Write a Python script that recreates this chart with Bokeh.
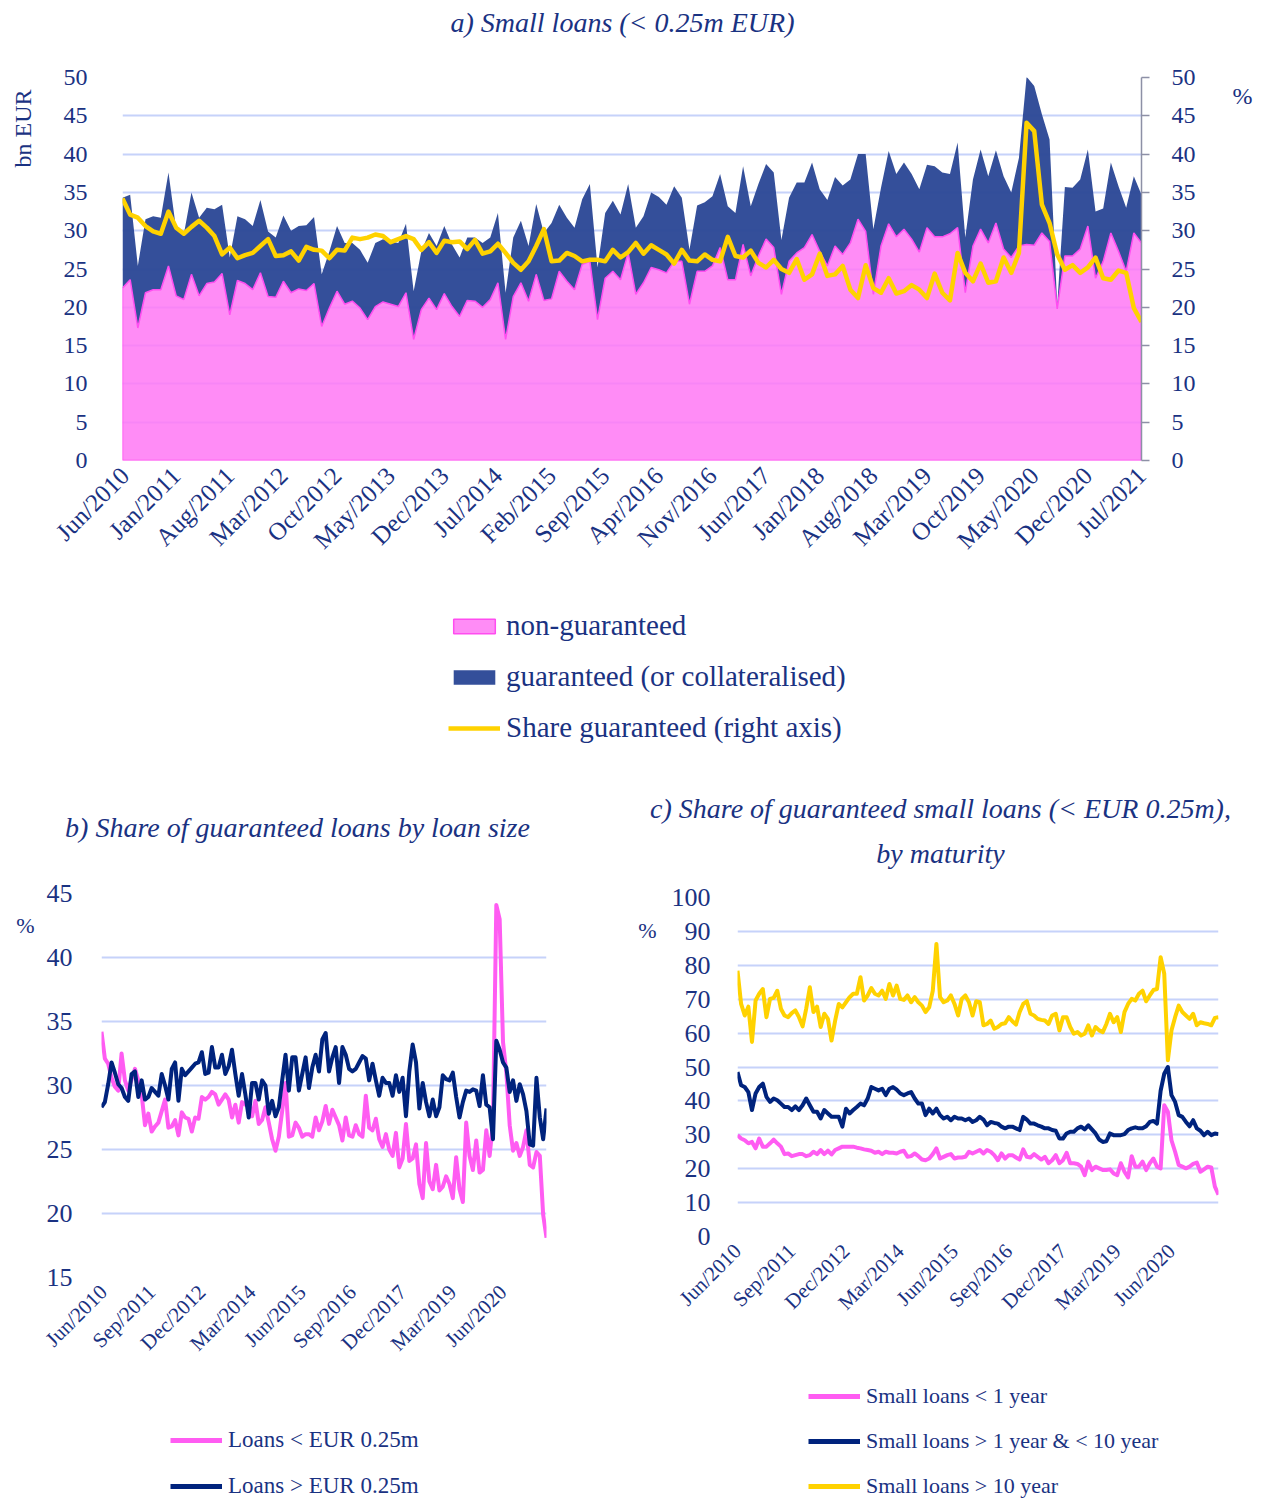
import math
import pandas as pd
from bokeh.plotting import figure
from bokeh.models import (ColumnDataSource, Range1d, LinearAxis, FixedTicker,
                          Legend, LegendItem, Label)
from bokeh.layouts import column, row
from bokeh.embed import file_html
from bokeh.resources import INLINE

# ---------------- data ----------------
months = [d.strftime("%b/%Y") for d in pd.date_range("2010-06-01", periods=134, freq="MS")]

ticks_a_labels = ["Jun/2010", "Jan/2011", "Aug/2011", "Mar/2012", "Oct/2012", "May/2013",
                  "Dec/2013", "Jul/2014", "Feb/2015", "Sep/2015", "Apr/2016", "Nov/2016",
                  "Jun/2017", "Jan/2018", "Aug/2018", "Mar/2019", "Oct/2019", "May/2020",
                  "Dec/2020", "Jul/2021"]
ticks_bc_labels = ["Jun/2010", "Sep/2011", "Dec/2012", "Mar/2014", "Jun/2015", "Sep/2016",
                   "Dec/2017", "Mar/2019", "Jun/2020"]

# a) small loans, bn EUR: total new small loans (top of the dark area)
total_small = [
    34.3, 34.7, 25.4, 31.5, 31.9, 31.7, 37.6, 30.2, 29.5, 35.0,
    31.7, 33.0, 32.8, 33.4, 26.5, 31.9, 31.5, 30.6, 34.0, 29.9,
    29.1, 32.0, 30.0, 30.6, 30.7, 31.8, 24.3, 27.3, 30.6, 28.4,
    28.4, 27.5, 25.8, 28.4, 28.9, 28.6, 28.4, 30.9, 22.1, 27.3,
    29.7, 28.0, 30.6, 28.2, 26.5, 29.1, 29.1, 28.4, 29.1, 32.3,
    21.9, 29.1, 31.3, 28.0, 33.5, 29.7, 31.0, 33.4, 31.7, 30.4,
    34.1, 36.1, 25.2, 32.3, 33.9, 32.1, 36.1, 30.4, 31.9, 35.0,
    34.4, 33.4, 35.8, 34.3, 27.5, 33.3, 33.7, 34.5, 37.4, 33.2,
    32.3, 38.4, 33.2, 36.1, 38.7, 37.6, 28.8, 34.3, 36.3, 36.3,
    38.9, 35.4, 34.0, 37.0, 35.9, 36.7, 40.0, 40.0, 30.2, 35.6,
    40.4, 37.4, 38.9, 37.4, 35.4, 38.6, 38.4, 37.6, 37.4, 41.5,
    29.1, 36.7, 40.6, 37.1, 40.5, 37.1, 35.0, 39.5, 50.1, 48.9,
    45.2, 41.9, 20.3, 35.7, 35.6, 36.7, 40.6, 32.5, 32.9, 38.9,
    35.8, 33.0, 37.1, 34.7]

# non-guaranteed small loans (top of the pink area)
non_guaranteed = [
    22.5, 23.6, 17.3, 21.9, 22.3, 22.3, 25.4, 21.5, 21.0, 24.3,
    21.5, 23.1, 23.3, 24.4, 19.0, 23.5, 23.1, 22.3, 24.5, 21.4,
    21.3, 23.4, 21.9, 22.4, 22.2, 23.1, 17.5, 19.9, 22.1, 20.4,
    20.8, 19.9, 18.4, 20.1, 20.7, 20.4, 20.1, 21.9, 15.8, 19.7,
    21.2, 19.7, 21.8, 20.1, 18.8, 20.9, 20.8, 20.0, 21.0, 23.2,
    15.8, 21.4, 23.2, 20.8, 24.3, 20.9, 21.1, 24.7, 23.4, 22.3,
    25.6, 26.0, 18.4, 23.8, 24.7, 23.6, 27.1, 21.7, 23.2, 25.2,
    24.9, 24.5, 26.0, 26.0, 20.4, 24.7, 24.7, 25.4, 27.8, 23.6,
    23.6, 28.2, 24.1, 26.7, 28.9, 27.8, 21.7, 26.0, 27.1, 27.8,
    29.5, 27.3, 25.4, 28.0, 26.9, 28.4, 31.5, 29.9, 21.7, 28.0,
    30.9, 29.2, 30.2, 28.9, 27.2, 30.4, 29.2, 29.2, 29.6, 30.4,
    21.9, 28.0, 30.2, 28.4, 31.0, 27.6, 26.5, 28.0, 28.2, 28.1,
    29.7, 28.6, 19.8, 26.7, 26.7, 27.6, 30.6, 23.8, 26.0, 29.7,
    27.3, 24.7, 29.7, 28.4]

# share guaranteed, small loans (%), also panel b "Loans < EUR 0.25m"
share_small = [
    34.2, 32.1, 31.7, 30.6, 29.9, 29.6, 32.5, 30.4, 29.6, 30.5,
    31.3, 30.4, 29.3, 26.9, 27.8, 26.4, 26.8, 27.1, 28.0, 28.9,
    26.7, 26.8, 27.3, 26.1, 27.9, 27.5, 27.4, 26.4, 27.5, 27.4,
    29.1, 28.9, 29.1, 29.5, 29.3, 28.5, 28.9, 29.3, 28.9, 27.5,
    28.5, 27.1, 28.7, 28.5, 28.6, 27.6, 28.8, 27.0, 27.3, 28.3,
    27.1, 25.8, 24.9, 26.0, 28.0, 30.2, 26.0, 26.1, 27.1, 26.7,
    26.0, 26.2, 26.2, 26.0, 27.5, 26.5, 27.2, 28.4, 27.0, 28.1,
    27.5, 26.9, 25.7, 27.5, 26.1, 26.0, 26.9, 26.2, 26.0, 29.2,
    26.7, 26.5, 27.4, 25.8, 25.2, 26.2, 25.0, 24.5, 26.3, 23.6,
    24.3, 27.0, 24.1, 24.3, 25.4, 22.3, 21.2, 25.5, 22.5, 21.9,
    23.8, 21.8, 22.1, 22.9, 22.3, 21.2, 24.4, 21.9, 20.9, 27.1,
    24.5, 23.4, 25.7, 23.2, 23.4, 26.5, 24.5, 27.1, 44.1, 43.0,
    33.4, 31.0, 26.9, 24.9, 25.5, 24.5, 25.2, 26.5, 23.8, 23.6,
    24.8, 24.5, 19.9, 18.1]

# b) share guaranteed, loans > EUR 0.25m (%)
share_large = [
    28.3, 28.7, 30.1, 31.8, 31.0, 30.1, 29.8, 29.1, 28.8, 30.9,
    31.1, 29.1, 30.4, 28.9, 29.1, 29.8, 29.5, 29.2, 30.9, 30.0,
    28.9, 31.3, 31.8, 28.8, 31.3, 30.8, 31.1, 31.4, 31.7, 31.8,
    32.6, 30.9, 31.0, 33.0, 31.4, 31.4, 32.4, 30.9, 31.5, 32.8,
    30.9, 29.2, 30.9, 29.3, 27.5, 30.2, 30.2, 28.9, 30.4, 30.0,
    27.8, 28.8, 27.6, 28.3, 30.4, 32.4, 29.6, 32.2, 32.2, 29.6,
    30.9, 32.2, 29.8, 31.4, 32.4, 31.1, 33.6, 34.1, 31.1, 32.2,
    33.0, 30.2, 33.0, 32.4, 31.3, 31.1, 31.3, 31.8, 32.3, 32.1,
    30.4, 31.7, 30.4, 29.2, 30.6, 30.2, 30.2, 29.2, 30.8, 29.5,
    30.6, 27.6, 31.1, 33.2, 31.8, 28.2, 30.2, 28.7, 27.6, 28.9,
    27.6, 28.3, 30.8, 30.5, 30.4, 31.0, 29.1, 27.5, 28.7, 29.6,
    29.5, 29.7, 29.6, 28.4, 30.8, 28.5, 28.3, 25.8, 33.5, 32.8,
    31.8, 31.4, 29.5, 30.4, 28.8, 30.1, 29.3, 28.0, 25.4, 25.3,
    30.6, 27.5, 25.8, 28.2]

# c) share guaranteed small loans by maturity (%)
c_short = [
    29.9, 28.9, 28.4, 27.5, 27.9, 26.0, 28.9, 26.5, 26.5, 27.5,
    28.6, 27.5, 26.5, 24.3, 24.5, 23.7, 24.0, 24.3, 24.3, 23.7,
    24.0, 25.0, 24.3, 25.5, 24.3, 25.3, 24.2, 25.5, 26.0, 26.5,
    26.5, 26.5, 26.5, 26.2, 26.0, 25.7, 25.5, 25.3, 24.7, 25.0,
    24.3, 25.0, 24.7, 24.7, 24.5, 25.0, 25.3, 23.5, 23.7, 24.5,
    23.7, 22.7, 22.5, 23.0, 24.3, 26.0, 23.0, 23.5, 24.0, 24.3,
    23.0, 23.3, 23.3, 23.5, 25.0, 24.5, 25.0, 25.5, 24.5, 25.5,
    25.0, 24.0, 22.5, 24.5, 23.0, 24.0, 24.0, 23.3, 22.7, 25.7,
    23.5, 23.3, 24.3, 23.5, 22.7, 23.5, 21.6, 22.5, 24.0, 21.6,
    22.5, 24.7, 21.6, 21.6, 21.4, 20.6, 18.1, 22.1, 19.6, 20.6,
    20.1, 19.6, 19.6, 19.8, 18.6, 18.1, 21.6, 19.1, 17.4, 23.7,
    20.6, 20.6, 22.1, 19.6, 21.6, 23.0, 20.6, 20.1, 38.7, 36.8,
    28.4, 25.0, 21.1, 20.6, 20.1, 20.6, 21.4, 21.8, 19.1, 19.8,
    20.6, 20.4, 14.7, 12.3]

c_mid = [
    48.5, 44.6, 44.1, 42.6, 37.3, 42.2, 44.1, 45.1, 41.2, 39.7,
    40.7, 40.2, 39.2, 38.2, 38.2, 37.3, 38.4, 37.3, 38.7, 40.7,
    38.7, 36.8, 36.8, 34.8, 37.3, 36.3, 35.3, 35.3, 35.3, 32.4,
    37.7, 36.3, 37.3, 38.2, 39.2, 38.7, 40.7, 44.1, 43.6, 43.1,
    43.6, 41.7, 43.6, 44.1, 43.3, 42.2, 41.7, 42.2, 42.6, 40.7,
    39.2, 39.2, 35.8, 37.7, 36.3, 37.7, 35.8, 34.8, 35.3, 34.3,
    35.3, 34.8, 34.8, 34.3, 34.8, 33.8, 34.3, 35.3, 34.5, 32.8,
    33.8, 33.5, 33.3, 32.4, 31.9, 32.4, 32.4, 31.9, 31.4, 35.3,
    34.5, 33.3, 33.3, 32.8, 32.4, 31.9, 31.9, 31.4, 31.2, 28.9,
    28.9, 30.4, 30.9, 30.9, 31.9, 32.4, 31.6, 32.8, 31.6, 30.4,
    28.6, 27.9, 28.1, 30.4, 29.9, 29.9, 29.9, 30.2, 31.4, 31.9,
    32.2, 31.9, 31.9, 32.5, 33.8, 34.1, 33.3, 43.0, 48.0, 50.0,
    41.7, 39.7, 35.8, 35.3, 33.8, 32.5, 34.3, 31.9, 31.2, 29.9,
    30.9, 29.9, 30.4, 30.2]

c_long = [
    78.4, 68.6, 65.2, 67.8, 57.4, 69.6, 71.6, 73.0, 64.7, 70.1,
    70.4, 72.5, 67.2, 65.2, 64.7, 65.9, 66.7, 64.7, 62.0, 67.2,
    73.5, 66.2, 67.8, 61.8, 65.7, 64.2, 57.8, 63.7, 68.6, 67.6,
    69.1, 70.6, 71.6, 71.6, 76.5, 69.6, 71.1, 73.3, 71.6, 71.1,
    72.5, 70.1, 74.5, 71.1, 74.0, 70.1, 69.8, 71.1, 69.1, 70.6,
    69.1, 68.1, 66.2, 67.6, 72.5, 86.3, 70.6, 69.1, 69.6, 71.1,
    68.6, 65.2, 70.1, 71.1, 69.1, 65.2, 69.4, 69.1, 62.3, 62.7,
    63.7, 61.3, 61.8, 62.7, 62.9, 64.7, 63.5, 62.5, 66.2, 68.6,
    69.4, 65.7, 65.2, 64.2, 63.9, 63.7, 62.7, 65.2, 65.7, 60.8,
    64.7, 64.7, 61.8, 59.8, 60.3, 59.3, 59.8, 62.3, 59.3, 61.8,
    60.8, 60.3, 62.7, 65.7, 63.2, 64.7, 60.3, 66.2, 68.6, 70.1,
    69.6, 71.6, 72.5, 69.4, 71.1, 72.7, 73.0, 82.4, 77.5, 52.0,
    60.8, 64.7, 68.1, 66.2, 65.2, 64.2, 65.7, 62.3, 63.2, 62.9,
    62.7, 62.3, 64.5, 64.7]

# ---------------- style ----------------
FONT = "Liberation Serif"
TXT = "#1a3282"
GRID = "#c6d2fa"
PINK_FILL = "#ff78f5"
PINK_LINE = "#ff4df0"
NAVY_AREA = "#2c4896"
YELLOW = "#ffd200"
PINK = "#ff5cf2"
NAVY = "#00237d"

idx = list(range(len(months)))
n_last = idx[-1]


def no_align(f):
    if "frame_align" in f.properties():
        f.frame_align = False
    return f


def blank_fig(w, h):
    # a text / legend strip; its ranges lie away from the data, so the
    # legend's renderers draw nothing in view
    f = figure(width=w, height=h, x_range=Range1d(-20, -10), y_range=Range1d(-20, -10),
               x_axis_type=None, y_axis_type=None, output_backend="svg",
               toolbar_location=None, min_border=0)
    f.outline_line_color = None
    f.background_fill_color = "white"
    f.border_fill_color = "white"
    f.xgrid.visible = False
    f.ygrid.visible = False
    return no_align(f)


def add_text(f, x, y, text, size, italic=False, angle=0.0):
    f.add_layout(Label(x=x, y=y, x_units="screen", y_units="screen", text=text,
                       angle=angle, text_align="center", text_baseline="middle",
                       text_font=FONT, text_font_size=size, text_color=TXT,
                       text_font_style="italic" if italic else "normal"))


def make_legend(f, items, x, y, size, glyph_h, label_h, spacing):
    leg = Legend(items=items, location=(x, y), orientation="vertical",
                 glyph_width=52, glyph_height=glyph_h, label_height=label_h,
                 spacing=spacing, padding=0, margin=0, label_standoff=6,
                 border_line_color=None, background_fill_alpha=0,
                 label_text_font=FONT, label_text_font_size=size, label_text_color=TXT)
    f.add_layout(leg)


def style_common(p, ylo, yhi, ystep, tick_labels, ysize, xsize, ystandoff):
    no_align(p)
    p.outline_line_color = None
    p.background_fill_color = "white"
    p.border_fill_color = "white"
    p.xgrid.visible = False
    p.ygrid.grid_line_color = GRID
    p.ygrid.grid_line_width = 2
    yl = p.yaxis[0]
    yl.ticker = FixedTicker(ticks=list(range(ylo, yhi + 1, ystep)))
    yl.axis_line_color = None
    yl.major_tick_line_color = None
    yl.minor_tick_line_color = None
    yl.major_label_text_font = FONT
    yl.major_label_text_font_size = ysize
    yl.major_label_text_color = TXT
    yl.major_label_standoff = ystandoff
    xa = p.xaxis[0]
    pos = [months.index(t) for t in tick_labels]
    xa.ticker = FixedTicker(ticks=pos)
    xa.major_label_overrides = {i: months[i] for i in pos}
    xa.major_label_orientation = math.pi / 4
    xa.axis_line_color = None
    xa.major_tick_line_color = None
    xa.minor_tick_line_color = None
    xa.major_label_text_font = FONT
    xa.major_label_text_font_size = xsize
    xa.major_label_text_color = TXT
    xa.major_label_standoff = 5


# ---------------- panel a ----------------
head_a = blank_fig(1263, 60)
add_text(head_a, 622, 38, "a) Small loans (< 0.25m EUR)", "28px", italic=True)

strip_al = blank_fig(50, 520)
add_text(strip_al, 22, 452, "bn EUR", "24px", angle=math.pi / 2)
strip_ar = blank_fig(50, 520)
add_text(strip_ar, 29, 485, "%", "24px")

pa = figure(width=1163, height=520, x_range=Range1d(idx[0], n_last), y_range=Range1d(0, 50),
            output_backend="svg", toolbar_location=None,
            min_border_left=72, min_border_right=72, min_border_top=17, min_border_bottom=120)
pa.extra_y_ranges = {"share": Range1d(0, 50)}
style_common(pa, 0, 50, 5, ticks_a_labels, "24px", "25px", 29)

src_a = ColumnDataSource(dict(x=idx, total=total_small, ng=non_guaranteed, share=share_small))
pink_x = [idx[0]] + idx + [n_last]
pink_y = [0] + non_guaranteed + [0]


def draw_a(f, y_name):
    rb = f.varea(x="x", y1="ng", y2="total", source=src_a, fill_color=NAVY_AREA, fill_alpha=0.96)
    rp = f.patch(pink_x, pink_y, fill_color=PINK_FILL, fill_alpha=0.85,
                 line_color=PINK_LINE, line_width=1.5)
    ry = f.line(x="x", y="share", source=src_a, y_range_name=y_name,
                line_color=YELLOW, line_width=4.5, line_join="round")
    return rb, rp, ry


draw_a(pa, "share")

ax_r = LinearAxis(y_range_name="share", ticker=FixedTicker(ticks=list(range(0, 51, 5))))
ax_r.axis_line_color = "#8d90a6"
ax_r.axis_line_width = 1.5
ax_r.major_tick_line_color = "#8d90a6"
ax_r.major_tick_line_width = 1.5
ax_r.major_tick_in = 0
ax_r.major_tick_out = 8
ax_r.minor_tick_line_color = None
ax_r.major_label_text_font = FONT
ax_r.major_label_text_font_size = "24px"
ax_r.major_label_text_color = TXT
ax_r.major_label_standoff = 22
pa.add_layout(ax_r, "right")

leg_a = blank_fig(1263, 182)
la_blue, la_pink, la_yel = draw_a(leg_a, "default")
make_legend(leg_a, [LegendItem(label="non-guaranteed", renderers=[la_pink]),
                    LegendItem(label="guaranteed (or collateralised)", renderers=[la_blue]),
                    LegendItem(label="Share guaranteed (right axis)", renderers=[la_yel])],
            448, 18, "29px", 18, 32, 18)

# ---------------- panel b ----------------
head_b = blank_fig(620, 116)
add_text(head_b, 297, 51, "b) Share of guaranteed loans by loan size", "28px", italic=True)
strip_b = blank_fig(40, 507)
add_text(strip_b, 25, 460, "%", "22px")

pb = figure(width=580, height=507, x_range=Range1d(idx[0], n_last), y_range=Range1d(15, 45),
            output_backend="svg", toolbar_location=None,
            min_border_left=61, min_border_right=74, min_border_top=15, min_border_bottom=108)
style_common(pb, 15, 45, 5, ticks_bc_labels, "26px", "21px", 23)
src_b = ColumnDataSource(dict(x=idx, small=share_small, large=share_large))


def draw_b(f):
    r1 = f.line(x="x", y="small", source=src_b, line_color=PINK, line_width=4, line_join="round")
    r2 = f.line(x="x", y="large", source=src_b, line_color=NAVY, line_width=4, line_join="round")
    return r1, r2


draw_b(pb)
leg_b = blank_fig(620, 115)
lb1, lb2 = draw_b(leg_b)
lb1.glyph.line_width = 5
lb2.glyph.line_width = 5
make_legend(leg_b, [LegendItem(label="Loans < EUR 0.25m", renderers=[lb1]),
                    LegendItem(label="Loans > EUR 0.25m", renderers=[lb2])],
            170, 1, "23px", 22, 26, 20)

# ---------------- panel c ----------------
head_c = blank_fig(643, 116)
add_text(head_c, 320, 70, "c) Share of guaranteed small loans (< EUR 0.25m),", "28px", italic=True)
add_text(head_c, 320, 25, "by maturity", "28px", italic=True)
strip_c = blank_fig(40, 467)
add_text(strip_c, 27, 415, "%", "22px")

pc = figure(width=603, height=467, x_range=Range1d(idx[0], n_last), y_range=Range1d(0, 100),
            output_backend="svg", toolbar_location=None,
            min_border_left=77, min_border_right=45, min_border_top=19, min_border_bottom=109)
style_common(pc, 0, 100, 10, ticks_bc_labels, "26px", "21px", 21)
src_c = ColumnDataSource(dict(x=idx, s=c_short, m=c_mid, l=c_long))


def draw_c(f):
    r1 = f.line(x="x", y="s", source=src_c, line_color=PINK, line_width=4, line_join="round")
    r2 = f.line(x="x", y="m", source=src_c, line_color=NAVY, line_width=4, line_join="round")
    r3 = f.line(x="x", y="l", source=src_c, line_color=YELLOW, line_width=4, line_join="round")
    return r1, r2, r3


draw_c(pc)
leg_c = blank_fig(643, 155)
lc1, lc2, lc3 = draw_c(leg_c)
for r in (lc1, lc2, lc3):
    r.glyph.line_width = 5
make_legend(leg_c, [LegendItem(label="Small loans < 1 year", renderers=[lc1]),
                    LegendItem(label="Small loans > 1 year & < 10 year", renderers=[lc2]),
                    LegendItem(label="Small loans > 10 year", renderers=[lc3])],
            188, 1, "22px", 22, 26, 19)

layout = column(head_a, row(strip_al, pa, strip_ar), leg_a,
                row(column(head_b, row(strip_b, pb), leg_b),
                    column(head_c, row(strip_c, pc), leg_c)))
open("out.html", "w").write(file_html(layout, INLINE))
